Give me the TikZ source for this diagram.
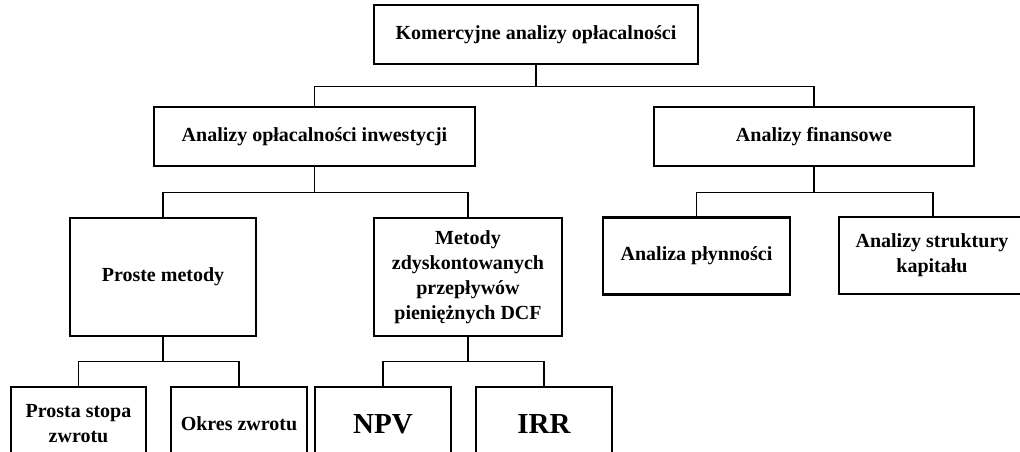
\documentclass[tikz,border=0pt]{standalone}
\usepackage{fontspec}
\setmainfont{Liberation Serif}
\begin{document}
\begin{tikzpicture}[x=1pt,y=-1pt,
  box/.style={draw=black, line width=2.2pt, rectangle, inner sep=2pt, align=center,
    font=\bfseries\fontsize{20}{25}\selectfont, text=black},
  bigbox/.style={box, font=\bfseries\fontsize{29}{34}\selectfont},
  link/.style={draw=black, line width=1.2pt}]
\useasboundingbox (0,0) rectangle (1020,452);
\clip (0,0) rectangle (1020,452);

% level 1
\node[box, minimum width=324pt, minimum height=59pt] (top) at (536,34.5) {Komercyjne analizy opłacalności};

% level 2
\node[box, minimum width=321pt, minimum height=59pt] (inv) at (314.5,136.5) {Analizy opłacalności inwestycji};
\node[box, minimum width=320pt, minimum height=59pt] (fin) at (814,136.5) {Analizy finansowe};

% level 3
\node[box, minimum width=186pt, minimum height=118pt] (proste) at (163,277) {Proste metody};
\node[box, minimum width=188pt, minimum height=118pt] (dcf) at (468,277) {Metody\\zdyskontowanych\\przepływów\\pieniężnych DCF};
\node[box, minimum width=187pt, minimum height=77pt] (plyn) at (696.5,256) {Analiza płynności};
% this box runs past the right edge: frame drawn on three sides only
\node[minimum width=186pt, minimum height=77pt, align=center, inner sep=2pt,
  font=\bfseries\fontsize{20}{25}\selectfont] (strukt) at (932,255.5) {Analizy struktury\\kapitału};
\draw[line width=2.2pt] ([xshift=60pt]strukt.north east) -- (strukt.north west)
  -- (strukt.south west) -- ([xshift=60pt]strukt.south east);

% level 4 (boxes run past the lower edge)
\node[box, minimum width=135pt, minimum height=74pt] (stopa) at (78.5,424) {Prosta stopa\\zwrotu};
\node[box, minimum width=136pt, minimum height=74pt] (okres) at (239,424) {Okres zwrotu};
\node[bigbox, minimum width=136pt, minimum height=74pt] (npv) at (383,424) {NPV};
\node[bigbox, minimum width=136pt, minimum height=74pt] (irr) at (544,424) {IRR};

% connectors
\draw[link] (top.south) -- ++(0,21.5) coordinate (j1);
\draw[link] (inv.north) |- (j1) -| (fin.north);

\draw[link] (inv.south) -- ++(0,25.5) coordinate (j2);
\draw[link] (proste.north) |- (j2) -| (dcf.north);

\draw[link] (fin.south) -- ++(0,25.5) coordinate (j3);
\draw[link] (plyn.north) |- (j3) -| ([xshift=1pt]strukt.north);

\draw[link] (proste.south) -- ++(0,24) coordinate (j4);
\draw[link] (stopa.north) |- (j4) -| (okres.north);

\draw[link] (dcf.south) -- ++(0,24) coordinate (j5);
\draw[link] (npv.north) |- (j5) -| (irr.north);
\end{tikzpicture}
\end{document}
